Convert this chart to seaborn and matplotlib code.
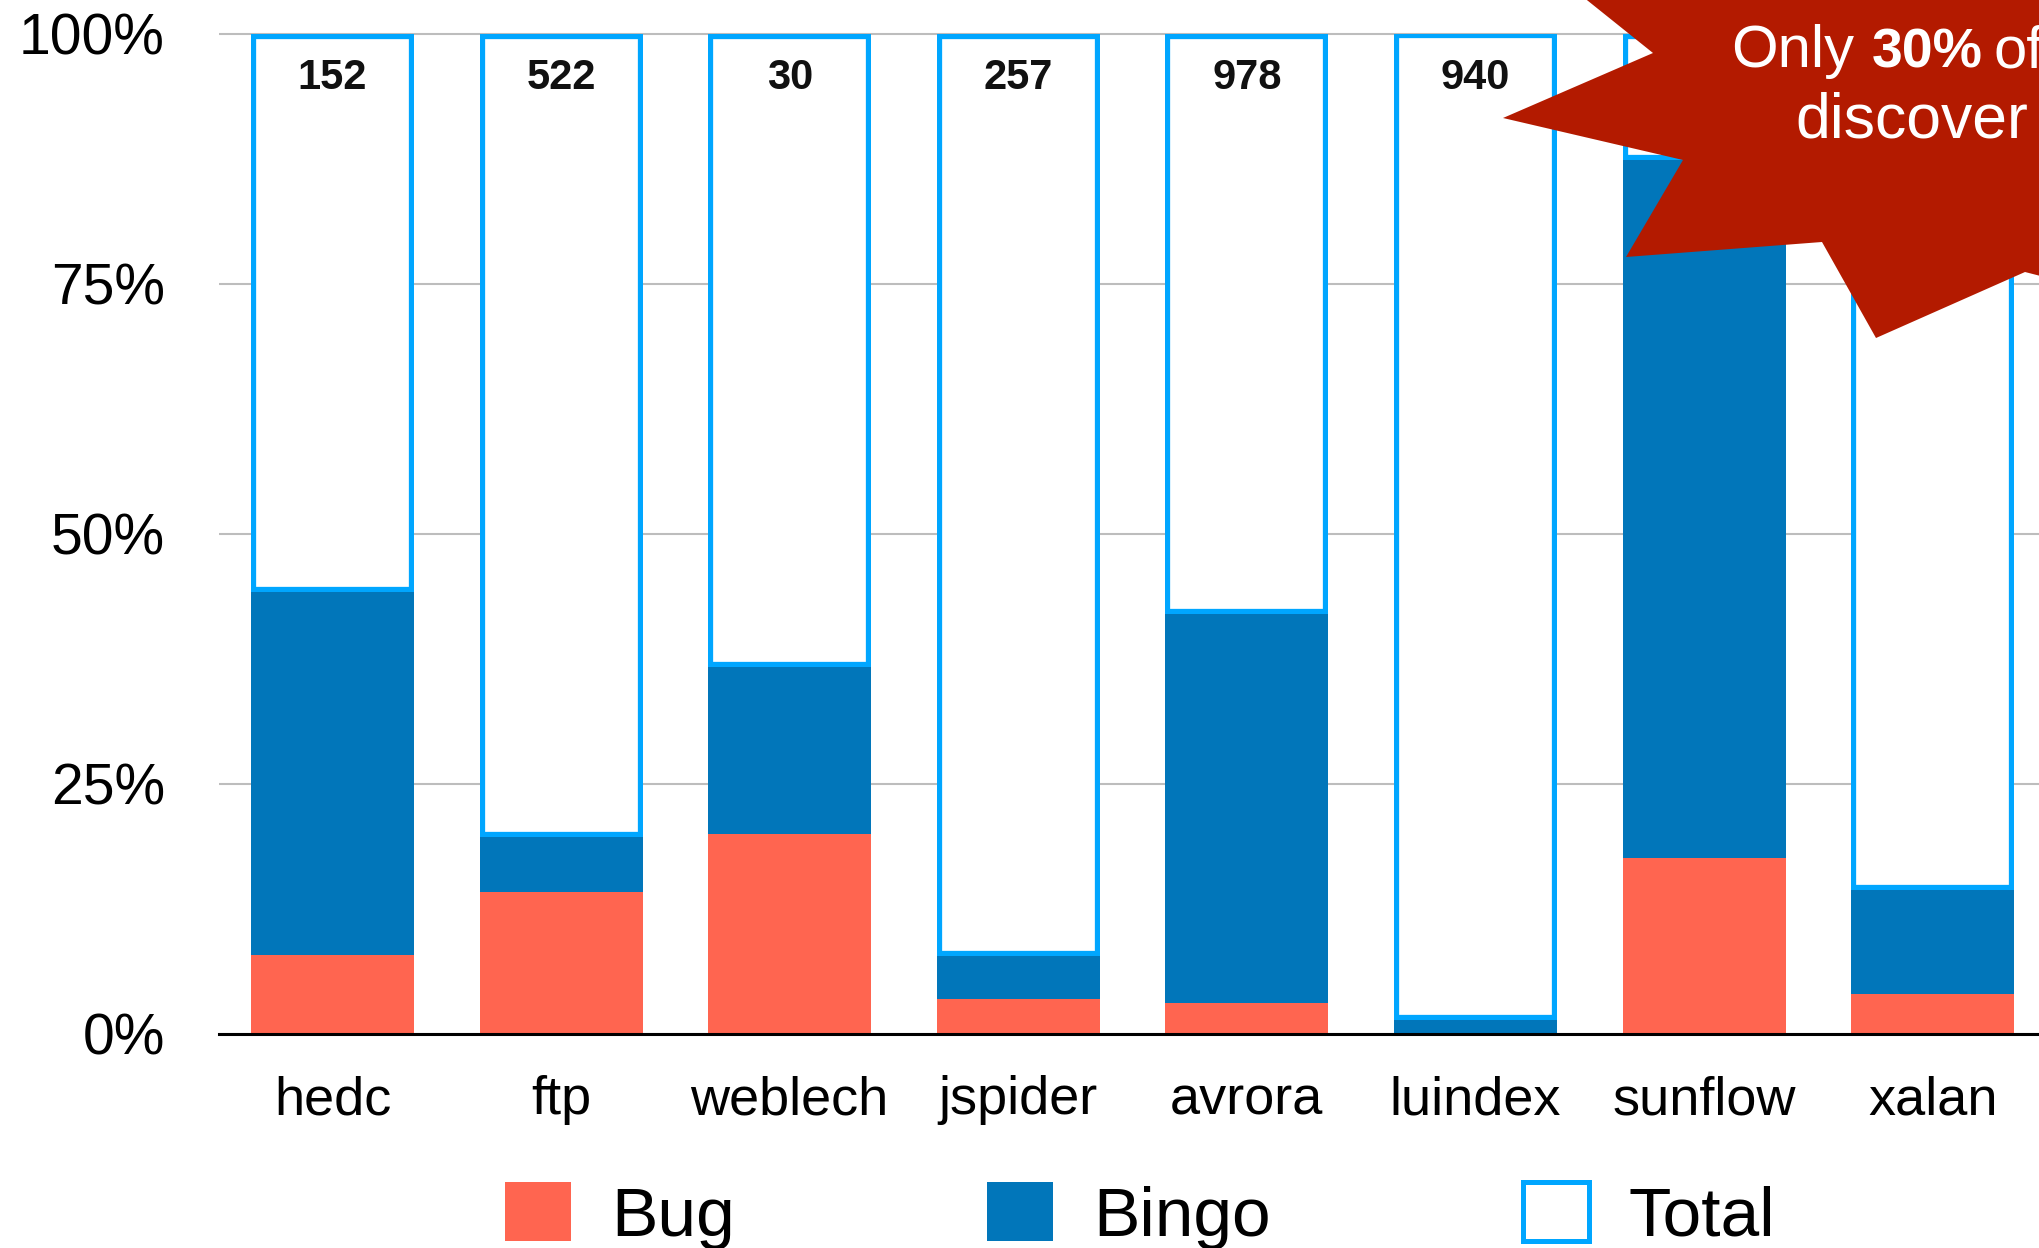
import matplotlib
matplotlib.use("Agg")
import matplotlib.pyplot as plt
from matplotlib.patches import Patch, Polygon
import pandas as pd
import seaborn as sns

# Share of reported races per benchmark (percent of total)
benchmarks = ["hedc", "ftp", "weblech", "jspider", "avrora", "luindex", "sunflow", "xalan"]
bug_pct = [7.9, 14.2, 20.0, 3.5, 3.1, 0.0, 17.6, 4.0]
bingo_pct = [44.2, 19.7, 36.7, 7.8, 42.0, 1.4, 87.4, 14.4]
total_counts = [152, 522, 30, 257, 978, 940, None, None]
y_ticks = [0, 25, 50, 75, 100]
y_tick_labels = ["0%", "25%", "50%", "75%", "100%"]
legend_labels = ["Bug", "Bingo", "Total"]

BUG_COLOR = "#FF6550"
BINGO_COLOR = "#0176BA"
TOTAL_EDGE = "#00A6FF"
STAR_COLOR = "#B31A00"

sns.set_theme(style="white")
plt.rcParams["font.family"] = ["Liberation Sans", "DejaVu Sans"]
plt.rcParams["text.color"] = "black"

W, H = 2039, 1248
fig = plt.figure(figsize=(W / 100, H / 100), dpi=100)
ax = fig.add_axes([219 / W, (H - 1033.5) / H, 1 - 219 / W, 1010 / H])

df = pd.DataFrame({"benchmark": benchmarks, "bug": bug_pct, "bingo": bingo_pct})
df["rest"] = 100 - df["bingo"]

bar_w = 0.713

# Outlined "Total" segment sits on top of the Bingo share
sns.barplot(data=df, x="benchmark", y="rest", order=benchmarks,
            bottom=df["bingo"].to_numpy(), color="white", saturation=1,
            width=bar_w, edgecolor=TOTAL_EDGE, linewidth=7.4, ax=ax, zorder=2)
for p in list(ax.patches):
    p.set_clip_path(p)  # keep the stroke inside the bar

sns.barplot(data=df, x="benchmark", y="bingo", order=benchmarks,
            color=BINGO_COLOR, saturation=1, width=bar_w, linewidth=0,
            ax=ax, zorder=3)
sns.barplot(data=df, x="benchmark", y="bug", order=benchmarks,
            color=BUG_COLOR, saturation=1, width=bar_w, linewidth=0,
            ax=ax, zorder=4)

for i, n in enumerate(total_counts):
    if n is None:
        continue
    ax.annotate(str(n), xy=(i, 100), xytext=(0, -40), textcoords="offset points",
                ha="center", va="baseline", fontsize=30, fontweight="bold",
                color="#111111", zorder=6)

ax.set_xlim(-0.4965, 7.465)
ax.set_ylim(0, 101)
ax.set_yticks(y_ticks, y_tick_labels)
ax.set_xlabel("")
ax.set_ylabel("")
ax.set_axisbelow(True)
ax.yaxis.grid(True, color="#BDBDBD", linewidth=1.5)
ax.xaxis.grid(False)
for side in ("left", "right", "top"):
    ax.spines[side].set_visible(False)
ax.spines["bottom"].set_color("black")
ax.spines["bottom"].set_linewidth(2.2)
ax.spines["bottom"].set_zorder(10)
ax.tick_params(axis="x", length=0, labelsize=39, pad=30, colors="black")
ax.tick_params(axis="y", length=0, labelsize=41, pad=39, colors="black")

handles = [Patch(facecolor=BUG_COLOR, edgecolor="none"),
           Patch(facecolor=BINGO_COLOR, edgecolor="none"),
           Patch(facecolor="white", edgecolor=TOTAL_EDGE, linewidth=3.6)]
leg = fig.legend(handles, legend_labels, loc="center",
                 bbox_to_anchor=(1140 / W, (H - 1216) / H), ncol=3, frameon=False,
                 fontsize=50, handlelength=0.95, handleheight=0.92,
                 handletextpad=0.58, columnspacing=3.63, borderpad=0,
                 borderaxespad=0)
for t in leg.get_texts():
    t.set_color("black")

# Callout burst in the upper right corner
burst_px = [(1512, -60), (1653, 53), (1503, 118), (1683, 160), (1626, 257),
            (1822, 242), (1876, 338), (2025, 272), (2150, 304), (2200, 200),
            (2200, -100), (1560, -100)]
burst = Polygon([(x / W, 1 - y / H) for x, y in burst_px], closed=True,
                transform=fig.transFigure, facecolor=STAR_COLOR,
                edgecolor="none", zorder=20)
fig.add_artist(burst)

txt = dict(color="white", va="baseline", ha="left", zorder=21)
fig.text(1731 / W, 1 - 67 / H, "Only", fontsize=43, **txt)
fig.text(1872 / W, 1 - 67 / H, "30%", fontsize=40, fontweight="bold", **txt)
fig.text(1993 / W, 1 - 67 / H, "of", fontsize=43, **txt)
fig.text(1795 / W, 1 - 138 / H, "discover", fontsize=45, **txt)

fig.savefig("out.png", dpi=100)
